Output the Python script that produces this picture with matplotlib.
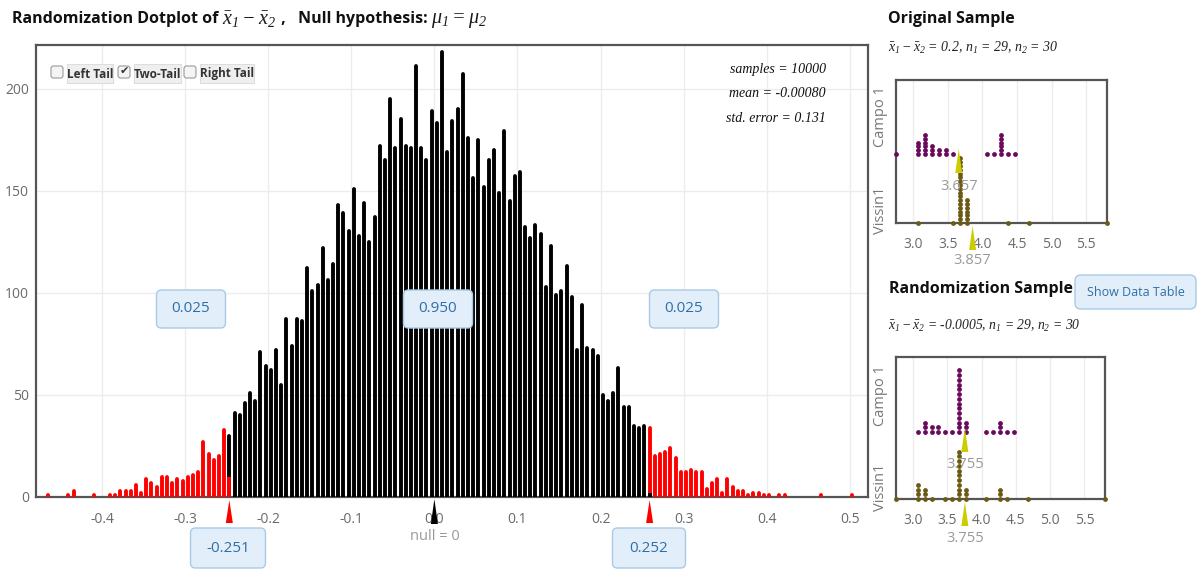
import numpy as np
import matplotlib
matplotlib.use("Agg")
import matplotlib.pyplot as plt
from matplotlib.patches import FancyBboxPatch, Polygon
import matplotlib.transforms as mtransforms

# ------------------------------------------------------------------ data
# randomization distribution (dotplot columns)
counts = [1, 0, 0, 0, 1, 3, 0, 0, 0, 1, 0, 0, 1, 1, 3, 3, 3, 6, 2, 9,
          7, 5, 10, 10, 7, 9, 8, 10, 11, 12, 27, 21, 18, 20, 33, 30, 41, 40, 46, 51,
          47, 71, 64, 62, 72, 55, 87, 74, 87, 86, 112, 101, 104, 122, 106, 114, 143, 139, 130, 151,
          128, 144, 125, 137, 172, 165, 195, 171, 185, 172, 171, 211, 171, 165, 189, 183, 218, 169, 184, 190,
          207, 176, 156, 175, 152, 165, 170, 149, 179, 145, 157, 159, 132, 127, 133, 129, 103, 123, 99, 101,
          113, 98, 72, 94, 73, 72, 69, 50, 47, 51, 63, 44, 44, 35, 34, 35, 34, 20, 21, 22,
          24, 19, 12, 12, 13, 12, 12, 4, 7, 9, 2, 9, 5, 3, 3, 1, 2, 2, 1, 1,
          0, 1, 1, 0, 0, 0, 0, 0, 0, 1, 0, 0, 0, 0, 0, 1]
bin_first = -0.4653
bin_step = 0.006244
left_split_idx, left_split_red = 35, 10
right_split_idx, right_split_black = 116, 2

x_ticks = [-0.4, -0.3, -0.2, -0.1, 0.0, 0.1, 0.2, 0.3, 0.4, 0.5]
y_ticks = [0, 50, 100, 150, 200]
tail_props = ["0.025", "0.950", "0.025"]
cutoff_labels = ["-0.251", "0.252"]
stats_lines = ["samples = 10000", "mean = -0.00080", "std. error = 0.131"]
checkbox_labels = ["Left Tail", "Two-Tail", "Right Tail"]
checkbox_state = [False, True, False]

# original sample dot plots
orig_campo_x = [2.75, 3.07, 3.17, 3.27, 3.37, 3.47, 3.57, 4.07, 4.17, 4.27, 4.37, 4.47]
orig_campo_n = [1, 4, 6, 3, 2, 2, 1, 1, 1, 6, 1, 1]
orig_vissin_x = [3.07, 3.57, 3.67, 3.77, 4.37, 4.67, 5.8]
orig_vissin_n = [1, 1, 18, 7, 1, 1, 1]
orig_means = [3.657, 3.857]
orig_header = r"$\bar{x}_1 - \bar{x}_2$ = 0.2, $n_1$ = 29, $n_2$ = 30"

# randomization sample dot plots
rand_campo_x = [3.07, 3.17, 3.27, 3.37, 3.47, 3.57, 3.67, 3.77, 4.07, 4.17, 4.27, 4.37, 4.47]
rand_campo_n = [1, 3, 2, 2, 1, 1, 14, 3, 1, 1, 3, 1, 1]
rand_vissin_x = [2.75, 3.07, 3.17, 3.27, 3.47, 3.57, 3.67, 3.77, 4.07, 4.27, 4.37, 4.67, 5.8]
rand_vissin_n = [1, 4, 3, 1, 1, 1, 11, 3, 1, 3, 1, 1, 1]
rand_means = [3.755, 3.755]
rand_header = r"$\bar{x}_1 - \bar{x}_2$ = -0.0005, $n_1$ = 29, $n_2$ = 30"
small_ticks = [3.0, 3.5, 4.0, 4.5, 5.0, 5.5]
group_labels = ["Campo 1", "Vissin1"]

# ------------------------------------------------------------------ style
W, H = 1204, 571
plt.rcParams["mathtext.fontset"] = "custom"
plt.rcParams["mathtext.it"] = "Liberation Serif:italic"
plt.rcParams["mathtext.rm"] = "Liberation Serif:italic"
plt.rcParams["mathtext.bf"] = "Liberation Serif:italic"
UI = ["Open Sans", "DejaVu Sans"]
SERIF = ["Liberation Serif", "DejaVu Serif"]
GRID = "#ececec"
FRAME = "#555555"
TICKC = "#6a6a6a"
PURPLE = "#6a0a5c"
OLIVE = "#6b5a14"
YEL = "#cccc00"
BOXFC = "#e2eef9"
BOXEC = "#a9cae6"
BOXTXT = "#2f6fa6"

fig = plt.figure(figsize=(W / 100, H / 100), dpi=100)
renderer = fig.canvas.get_renderer()


def rect(l, t, r, b):
    return [l / W, 1 - b / H, (r - l) / W, (b - t) / H]


# overlay in pixel coordinates for layout items
ov = fig.add_axes([0, 0, 1, 1], zorder=10)
ov.set_xlim(0, W)
ov.set_ylim(H, 0)
ov.axis("off")
ov.patch.set_alpha(0)

# ------------------------------------------------------------------ main dotplot
ax = fig.add_axes(rect(36, 45, 868, 497))
xs = bin_first + bin_step * np.arange(len(counts))
cnt = np.array(counts)
lw = 2.8
for i, (x, c) in enumerate(zip(xs, cnt)):
    if c == 0:
        continue
    if left_split_idx < i < right_split_idx or i == left_split_idx:
        col = "black"
    else:
        col = "#ff0000"
    ln = ax.vlines(x, 0, c, colors=col, linewidth=lw, zorder=3)
    ln.set_capstyle("round")
    if i == left_split_idx:
        ax.vlines(x, 0, left_split_red, colors="#ff0000", linewidth=lw, zorder=4)
    if i == right_split_idx:
        ax.vlines(x, 0, right_split_black, colors="black", linewidth=lw, zorder=4)

ax.set_xlim(-0.4794, 0.5218)
ax.set_ylim(0, 221.3)
ax.set_xticks(x_ticks)
ax.set_xticklabels(["%.1f" % v for v in x_ticks])
ax.set_yticks(y_ticks)
ax.tick_params(length=0, colors=TICKC, labelsize=10)
ax.tick_params(axis="x", pad=11)
ax.tick_params(axis="y", pad=5)
for lab in ax.get_xticklabels() + ax.get_yticklabels():
    lab.set_family(UI)
ax.grid(True, color=GRID, lw=1, zorder=0)
ax.set_axisbelow(True)
for s in ax.spines.values():
    s.set_color(FRAME)
    s.set_linewidth(1.6)

# markers below the axis
bl = mtransforms.blended_transform_factory(ax.transData, ov.transData)


def up_tri(x, ytop, ybot, hw_px, color):
    hw = hw_px * (ax.get_xlim()[1] - ax.get_xlim()[0]) / (868 - 36)
    ov.add_patch(Polygon([[x, ytop], [x - hw, ybot], [x + hw, ybot]], closed=True,
                         fc=color, ec="none", transform=bl, clip_on=False, zorder=12))


up_tri(0.0, 499, 524, 3.5, "black")
up_tri(xs[left_split_idx], 500, 523, 3.5, "#ff0000")
up_tri(xs[right_split_idx], 500, 523, 3.5, "#ff0000")
ov.text(0.0, 536, "null = 0", transform=bl, ha="center", va="center",
        color="#9a9a9a", fontsize=10.5, family=UI)


def blue_box(cx, cy, w, h, txt):
    p = FancyBboxPatch((cx - w / 2, cy - h / 2), w, h,
                       boxstyle="round,pad=0,rounding_size=5",
                       fc=BOXFC, ec=BOXEC, lw=1, zorder=11)
    ov.add_patch(p)
    ov.text(cx, cy, txt, ha="center", va="center", color=BOXTXT,
            fontsize=11, family=UI, zorder=12)


blue_box(191, 309, 69, 38, tail_props[0])
blue_box(438, 309, 69, 38, tail_props[1])
blue_box(684, 309, 69, 38, tail_props[2])
blue_box(228, 548, 75, 40, cutoff_labels[0])
blue_box(649, 548, 73, 40, cutoff_labels[1])

# stats text
for k, s in enumerate(stats_lines):
    ov.text(826, 69 + k * 24.5, s, ha="right", va="center", fontsize=10,
            family=SERIF, style="italic", color="#111111")

# checkboxes
cb_x = [57, 124, 190]
lab_x = [(67, 113), (134, 181), (200, 254)]
for k in range(3):
    ov.add_patch(FancyBboxPatch((cb_x[k] - 6, 66), 12, 12,
                                boxstyle="round,pad=0,rounding_size=2.5",
                                fc="#f4f4f4", ec="#9a9a9a", lw=0.8, zorder=11))
    if checkbox_state[k]:
        ov.text(cb_x[k], 71, "\u2714", ha="center", va="center", fontsize=8,
                color="#333333", family="DejaVu Sans", zorder=12)
    l, r = lab_x[k]
    ov.add_patch(FancyBboxPatch((l, 64), r - l, 19, boxstyle="square,pad=0",
                                fc="#efefef", ec="#dddddd", lw=0.8, zorder=11))
    ov.text((l + r) / 2, 74, checkbox_labels[k], ha="center", va="center",
            fontsize=8.5, color="#333333", family=UI, weight="bold", zorder=12)

# main title built from pieces (math parts are larger)
pieces = [("Randomization Dotplot of ", 11.5, True),
          (r"$\bar{x}_1 - \bar{x}_2$", 14.5, False),
          (" ,   Null hypothesis: ", 11.5, True),
          (r"$\mu_1 = \mu_2$", 14.5, False)]
xcur = 12
for txt, fs, isbold in pieces:
    if isbold:
        t = ov.text(xcur, 19, txt, ha="left", va="center", fontsize=fs, weight="bold",
                    family=UI, color="#111111")
    else:
        t = ov.text(xcur, 20, txt, ha="left", va="center", fontsize=fs, color="#1a1a1a")
    bb = t.get_window_extent(renderer=renderer)
    xcur += bb.width

ov.text(888, 19, "Original Sample", ha="left", va="center", fontsize=11.5,
        weight="bold", family=UI, color="#111111")
ov.text(888, 48, orig_header, ha="left", va="center", fontsize=10, color="#222222",
        family=SERIF, style="italic")
ov.text(889, 289, "Randomization Sample", ha="left", va="center", fontsize=11.5,
        weight="bold", family=UI, color="#111111")
ov.text(888, 326, rand_header, ha="left", va="center", fontsize=9.8, color="#222222",
        family=SERIF, style="italic")
ov.add_patch(FancyBboxPatch((1075, 275), 121, 34, boxstyle="round,pad=0,rounding_size=6",
                            fc=BOXFC, ec=BOXEC, lw=1, zorder=11))
ov.text(1135.5, 292, "Show Data Table", ha="center", va="center", fontsize=9,
        color=BOXTXT, family=UI, zorder=12)

# ------------------------------------------------------------------ small dot plots


def small_panel(box, campo_x, campo_n, vis_x, vis_n, means, campo_base, tri, lab_y, gap):
    l, t, r, b = box
    a = fig.add_axes(rect(l, t, r, b))
    hpx = b - t
    a.set_xlim(2.75, 5.8)
    a.set_ylim(0, hpx)
    a.set_yticks([])
    a.set_xticks(small_ticks)
    a.set_xticklabels(["%.1f" % v for v in small_ticks])
    a.tick_params(length=0, colors=TICKC, labelsize=10, pad=10)
    for lab in a.get_xticklabels():
        lab.set_family(UI)
    a.grid(True, axis="x", color=GRID, lw=1, zorder=0)
    for s in a.spines.values():
        s.set_color(FRAME)
        s.set_linewidth(1.6)
    for xv, nv in zip(campo_x, campo_n):
        yy = campo_base + gap * np.arange(nv)
        a.scatter([xv] * nv, yy, s=12, color=PURPLE, zorder=3, clip_on=False, lw=0)
    for xv, nv in zip(vis_x, vis_n):
        yy = 0 + gap * np.arange(nv)
        a.scatter([xv] * nv, yy, s=12, color=OLIVE, zorder=3, clip_on=False, lw=0)
    hw = 3.5 * (5.8 - 2.75) / (r - l)
    up_apex, up_base, up_lab, lo_lab = tri
    m0, m1 = means
    a.add_patch(Polygon([[m0, up_apex], [m0 - hw, up_base], [m0 + hw, up_base]],
                        fc=YEL, ec="none", zorder=5, clip_on=False))
    a.text(m0, up_lab, "%.3f" % m0, ha="center", va="center", color="#9a9a9a",
           fontsize=10.5, family=UI, zorder=6)
    a.add_patch(Polygon([[m1, -3], [m1 - hw, -27], [m1 + hw, -27]],
                        fc=YEL, ec="none", zorder=5, clip_on=False))
    a.text(m1, lo_lab, "%.3f" % m1, ha="center", va="center", color="#9a9a9a",
           fontsize=10.5, family=UI, zorder=6)
    for g, yc in zip(group_labels, lab_y):
        ov.text(880, yc, g, rotation=90, ha="center", va="center", color="#777777",
                fontsize=10.5, family=UI)
    return a


small_panel((896, 80, 1107, 223), orig_campo_x, orig_campo_n, orig_vissin_x, orig_vissin_n,
            orig_means, 69, (74, 50, 37, -38), (117, 210), 3.8)
small_panel((896, 357, 1105, 499), rand_campo_x, rand_campo_n, rand_vissin_x, rand_vissin_n,
            rand_means, 67, (71, 47, 34, -39), (396, 487), 4.75)

fig.savefig("out.png", dpi=100)
